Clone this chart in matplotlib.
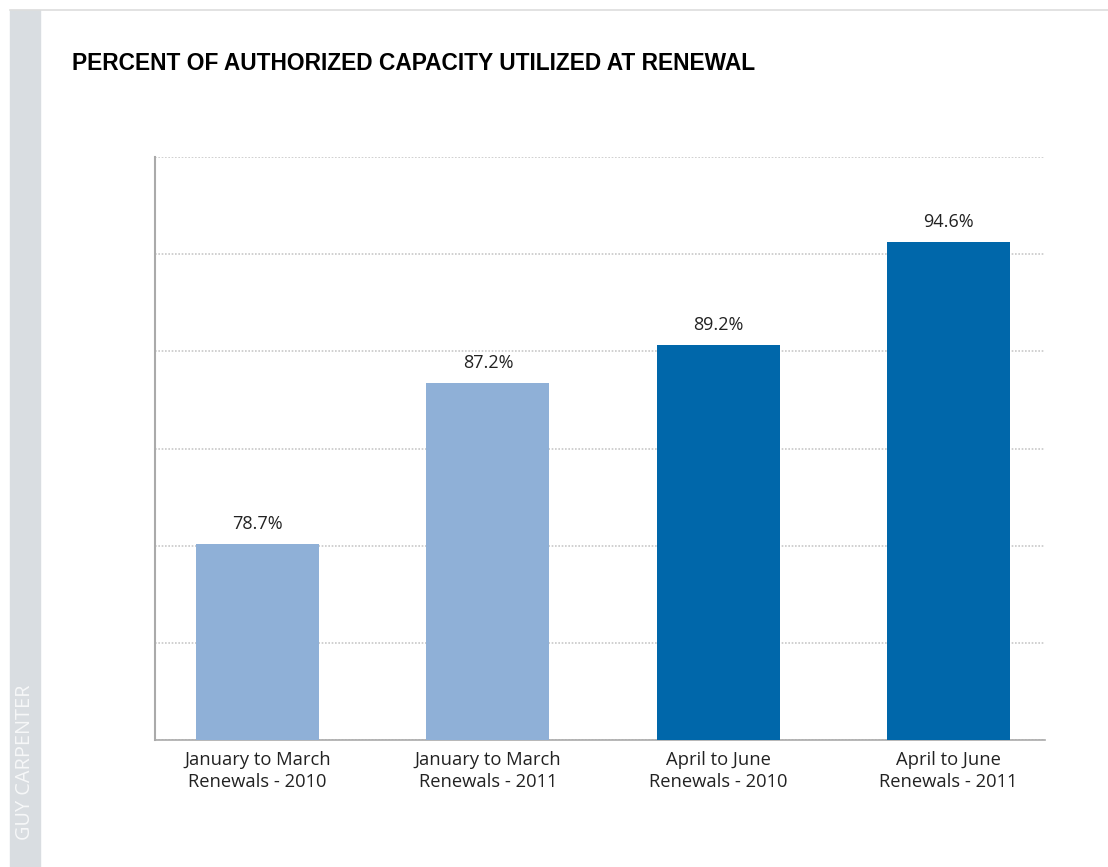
import numpy as np
import matplotlib.pyplot as plt
from matplotlib.patches import Rectangle

categories = ["January to March\nRenewals - 2010", "January to March\nRenewals - 2011",
              "April to June\nRenewals - 2010", "April to June\nRenewals - 2011"]
values = [78.7, 87.2, 89.2, 94.6]
bar_colors = ["#8FB0D7", "#8FB0D7", "#0067AA", "#0067AA"]
title = "PERCENT OF AUTHORIZED CAPACITY UTILIZED AT RENEWAL"
side_text = "GUY CARPENTER"

W, H = 1108, 867
fig = plt.figure(figsize=(W / 100, H / 100), dpi=100)

# grey side strip and top border
fig.patches.append(Rectangle((10 / W, 0), 30 / W, 1 - 10 / H, transform=fig.transFigure,
                             color="#D9DDE1", zorder=0))
fig.add_artist(plt.Line2D([10 / W, 1], [1 - 10 / H, 1 - 10 / H], transform=fig.transFigure,
                          color="#DDDDDD", lw=1.2))
fig.text(25 / W, 1 - 762 / H, side_text, rotation=90, color="#F7F8F9", fontsize=14.3,
         family="Open Sans", ha="center", va="center")

fig.text(72 / W, 1 - 63 / H, title, fontsize=16.4, fontweight="bold",
         family="Liberation Sans", ha="left", va="center", color="#000000")

ax = fig.add_axes([155 / W, 1 - 740 / H, 890 / W, 583 / H])
x = np.arange(len(values))
ax.bar(x, values, width=0.535, color=bar_colors, zorder=3)

ymin, ymax = 68.4, 99.1
ax.set_ylim(ymin, ymax)
ax.set_xlim(-0.446, 3.42)
ax.set_yticks(np.linspace(ymin, ymax, 7))
ax.set_yticklabels([])
ax.tick_params(axis="y", length=0)
ax.grid(axis="y", color="#C8C8C8", linestyle=(0, (1, 1)), lw=1.2, zorder=0)

ax.set_xticks(x)
ax.set_xticklabels(categories, fontsize=13.2, family="Open Sans", color="#222222",
                   linespacing=1.25)
ax.tick_params(axis="x", length=0, pad=8)

for xi, v in zip(x, values):
    ax.annotate(f"{v}%", (xi, v), xytext=(0, 8), textcoords="offset points",
                ha="center", va="bottom", fontsize=13, family="Open Sans", color="#222222")

for s in ["top", "right"]:
    ax.spines[s].set_visible(False)
ax.spines["left"].set_color("#AAAAAA")
ax.spines["left"].set_linewidth(1.5)
ax.spines["bottom"].set_color("#AAAAAA")
ax.spines["bottom"].set_linewidth(1.2)

fig.savefig("out.png", dpi=100)
